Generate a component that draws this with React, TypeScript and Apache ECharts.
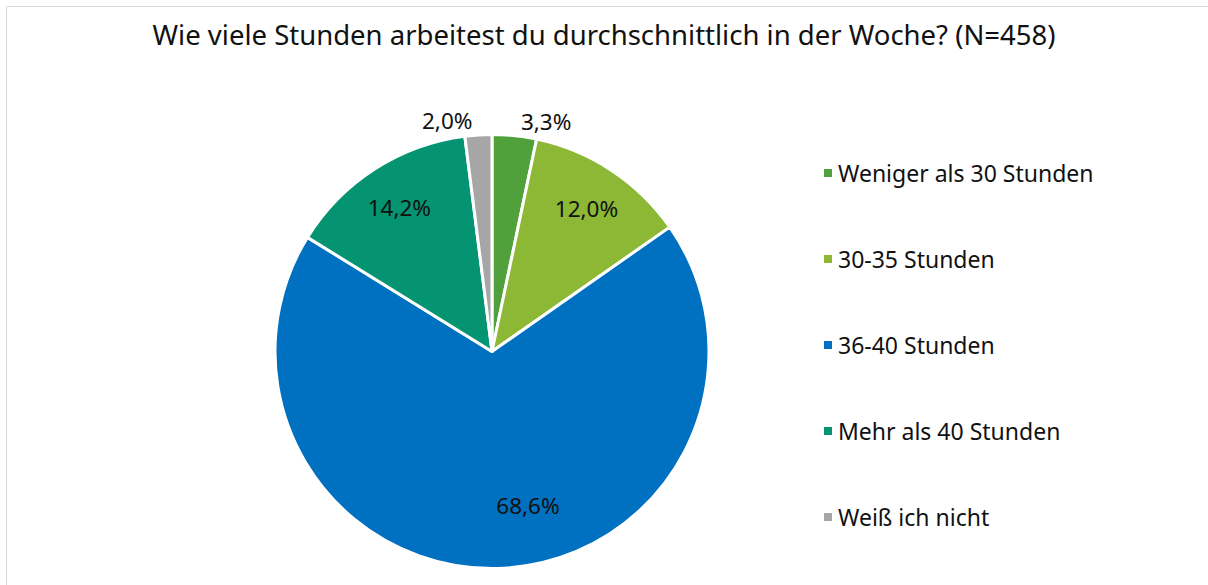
import React, { useEffect, useRef } from "react";
import * as echarts from "echarts";

const titleText = "Wie viele Stunden arbeitest du durchschnittlich in der Woche? (N=458)";
const categories = [
  "Weniger als 30 Stunden",
  "30-35 Stunden",
  "36-40 Stunden",
  "Mehr als 40 Stunden",
  "Weiß ich nicht",
];
const values = [3.3, 12.0, 68.6, 14.2, 2.0];
const colors = ["#50A03B", "#8CB836", "#0070C0", "#049472", "#A6A6A6"];

const CX = 492;
const CY = 351.5;
const R = 217;

export default function App() {
  const ref = useRef<HTMLDivElement>(null);
  useEffect(() => {
    if (!ref.current) return;
    const chart = echarts.init(ref.current, null, { renderer: "svg" });
    const fmt = (v: number) => v.toFixed(1).replace(".", ",") + "%";
    chart.setOption({
      animation: false,
      backgroundColor: "#ffffff",
      title: {
        text: titleText,
        left: "center",
        top: 15,
        textStyle: {
          fontFamily: "Noto Sans",
          fontSize: 27.5,
          fontWeight: "normal",
          color: "#111111",
        },
      },
      legend: {
        orient: "vertical",
        left: 817,
        top: 155,
        icon: "rect",
        itemWidth: 10,
        itemHeight: 10,
        itemGap: 60,
        data: categories,
        textStyle: {
          fontFamily: "Noto Sans",
          fontSize: 23,
          lineHeight: 26,
          color: "#111111",
        },
      },
      graphic: [
        {
          type: "rect",
          shape: { x: 6.5, y: 6.5, width: 1240, height: 620 },
          style: { fill: "none", stroke: "#D9D9D9", lineWidth: 1 },
          silent: true,
        },
      ],
      series: [
        {
          type: "pie",
          center: [CX, CY],
          radius: [0, R],
          startAngle: 90,
          clockwise: true,
          avoidLabelOverlap: false,
          itemStyle: { borderColor: "#ffffff", borderWidth: 3 },
          label: {
            show: true,
            position: "inside",
            formatter: (p: any) => fmt(p.value),
            fontFamily: "Noto Sans",
            fontSize: 22.5,
            color: "#111111",
          },
          labelLine: { show: false },
          emphasis: { disabled: true },
          labelLayout: (p: any) => {
            const r = p.labelRect;
            const lx = r.x + r.width / 2;
            const ly = r.y + r.height / 2;
            const dx = lx - CX;
            const dy = ly - CY;
            const d = Math.hypot(dx, dy) || 1;
            const v = values[p.dataIndex];
            if (v < 5) {
              const k = (R + 14) / d;
              return {
                x: CX + dx * k + Math.sign(dx) * r.width * 0.6,
                y: CY + dy * k,
                align: "center",
                verticalAlign: "middle",
              };
            }
            if (v > 50) {
              const a = Math.atan2(dy, dx) - (11.5 * Math.PI) / 180;
              return {
                x: CX + Math.cos(a) * 0.73 * R,
                y: CY + Math.sin(a) * 0.73 * R,
                align: "center",
                verticalAlign: "middle",
              };
            }
            const k = (0.79 * R) / d;
            return {
              x: CX + dx * k,
              y: CY + dy * k,
              align: "center",
              verticalAlign: "middle",
            };
          },
          data: categories.map((c, i) => ({
            name: c,
            value: values[i],
            itemStyle: { color: colors[i] },
          })),
        },
      ],
    });
    return () => chart.dispose();
  }, []);
  return (
    <div
      ref={ref}
      style={{ position: "fixed", left: 0, top: 0, width: 1208, height: 585 }}
    />
  );
}
